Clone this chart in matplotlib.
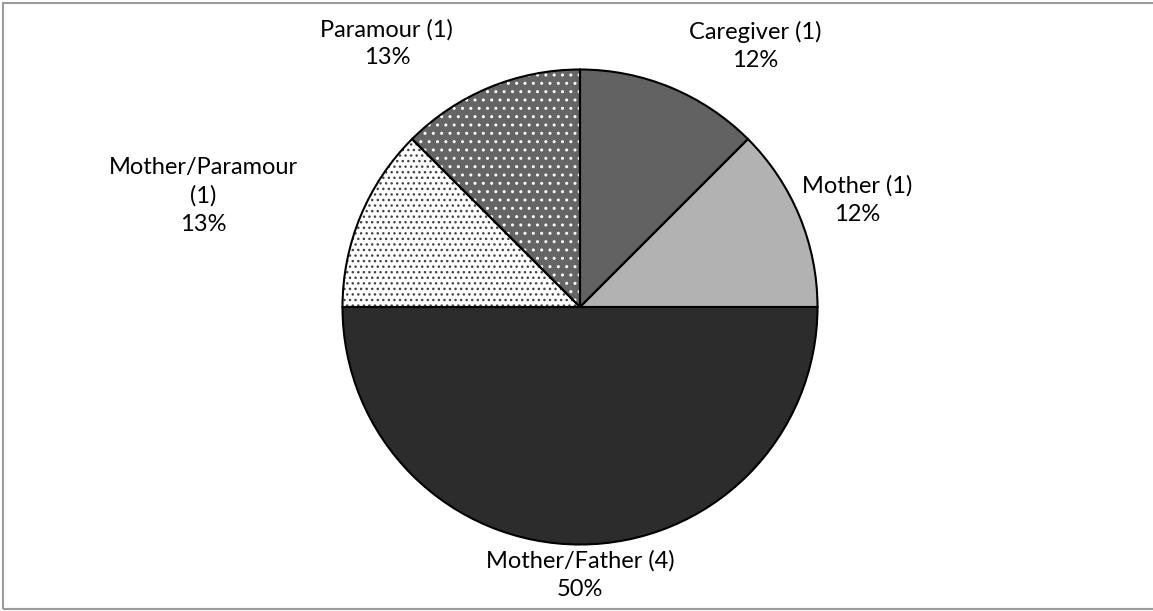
import matplotlib
matplotlib.use('Agg')
import matplotlib.pyplot as plt
from matplotlib.patches import Rectangle

plt.rcParams['font.family'] = ['Lato', 'DejaVu Sans']

# Data
categories = ['Caregiver (1)', 'Mother (1)', 'Mother/Father (4)', 'Mother/Paramour\n(1)', 'Paramour (1)']
counts = [1, 1, 4, 1, 1]
pct_labels = ['12%', '12%', '50%', '13%', '13%']

# Styles
face_colors = ['#626262', '#b2b2b2', '#2c2c2c', '#ffffff', '#656565']
hatches = [None, None, None, '...', '..']
hatch_colors = ['#626262', '#b2b2b2', '#2c2c2c', '#444444', '#ffffff']
# label centres in pie-radius units
label_xy = [(0.737, 1.10), (1.166, 0.45), (0.0, -1.128), (-1.587, 0.467), (-0.813, 1.11)]

W, H, DPI = 1153, 611, 100
fig = plt.figure(figsize=(W / DPI, H / DPI), dpi=DPI)
ax = fig.add_axes([0, 0, 1, 1])

cx, cy, r = 580, 307, 237.5

# fill + hatch layer
wedges, _ = ax.pie(counts, startangle=90, counterclock=False, colors=face_colors,
                   wedgeprops=dict(linewidth=0))
for w, h, hc in zip(wedges, hatches, hatch_colors):
    w.set_edgecolor(hc)
    if h:
        w.set_hatch(h)

# outline layer
ax.pie(counts, startangle=90, counterclock=False,
       wedgeprops=dict(facecolor='none', edgecolor='black', linewidth=1.5))

for (lx, ly), cat, pct in zip(label_xy, categories, pct_labels):
    ax.text(lx, ly, cat + '\n' + pct, ha='center', va='center', fontsize=17,
            linespacing=1.4, color='black')

ax.set_xlim(-cx / r, (W - cx) / r)
ax.set_ylim(-(H - cy) / r, cy / r)
ax.set_aspect('auto')
ax.axis('off')

# chart border
fig.patches.append(Rectangle((3 / W, 2 / H), 1.2, (H - 5) / H, transform=fig.transFigure,
                             fill=False, edgecolor='#9a9a9a', linewidth=1.5))

fig.savefig('out.png', dpi=DPI)
